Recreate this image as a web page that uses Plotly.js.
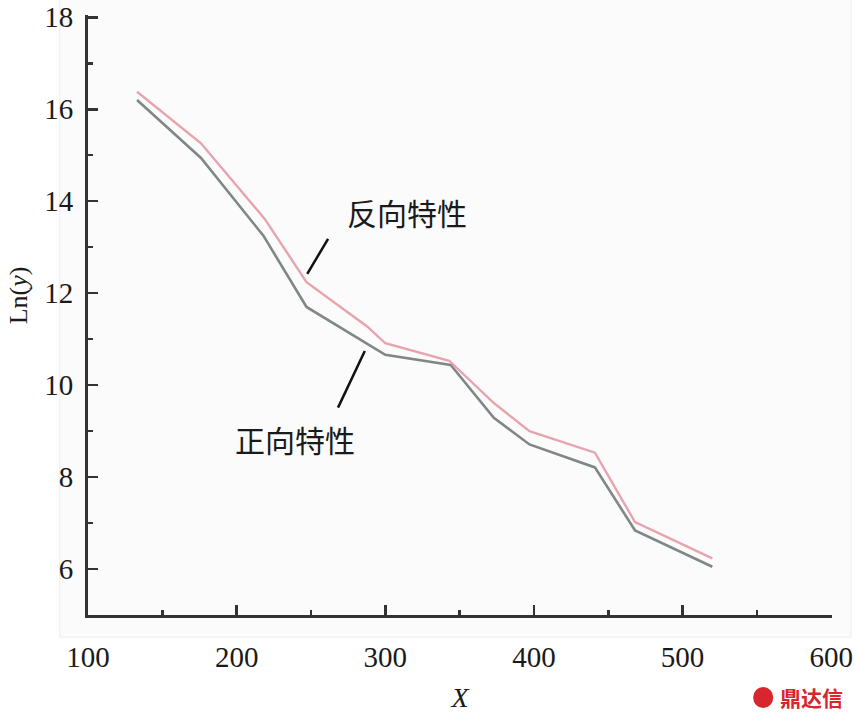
<!DOCTYPE html>
<html>
<head>
<meta charset="utf-8">
<script src="https://cdn.plot.ly/plotly-3.0.1.min.js"></script>
<style>
  html, body { margin: 0; padding: 0; background: #fff; }
  #chart { width: 854px; height: 718px; }
</style>
</head>
<body>
<div id="chart"></div>
<script>
(function() {
  'use strict';

  // forward characteristic (grey)
  var xForward = [133, 176, 218, 247, 300, 344, 373, 397, 441, 468, 520];
  var yForward = [16.2, 14.94, 13.25, 11.7, 10.66, 10.44, 9.29, 8.71, 8.21, 6.84, 6.05];

  // reverse characteristic (pink)
  var xReverse = [133, 176, 219, 247, 288, 300, 343, 373, 397, 441, 468, 520];
  var yReverse = [16.38, 15.26, 13.61, 12.24, 11.27, 10.91, 10.53, 9.61, 9.0, 8.53, 7.02, 6.23];

  var xTicks = [100, 200, 300, 400, 500, 600];
  var yTicks = [6, 8, 10, 12, 14, 16, 18];

  var serif = 'Liberation Serif';
  var cjk = 'Noto Sans CJK SC';

  var data = [
    {
      x: xForward, y: yForward, type: 'scatter', mode: 'lines', name: '正向特性',
      line: { color: '#7f8884', width: 2.6 }
    },
    {
      x: xReverse, y: yReverse, type: 'scatter', mode: 'lines', name: '反向特性',
      line: { color: '#e9a3ad', width: 2.4 }
    }
  ];

  var layout = {
    width: 854, height: 718,
    font: { family: serif, size: 29, color: '#1a1a1a' },
    paper_bgcolor: '#ffffff',
    plot_bgcolor: 'rgba(0,0,0,0)',
    margin: { l: 88, r: 22, t: 15, b: 103 },
    showlegend: false,
    xaxis: {
      range: [100, 600.5],
      showgrid: false, zeroline: false, showline: true,
      linecolor: '#333', linewidth: 3,
      ticks: 'inside', ticklen: 10, tickwidth: 2.5, tickcolor: '#333',
      tickvals: xTicks,
      tickfont: { family: serif, size: 29, color: '#1a1a1a' },
      ticklabelstandoff: 14,
      minor: { dtick: 50, ticks: 'inside', ticklen: 5, tickwidth: 2.5, tickcolor: '#333' },
      title: { text: '<i>X</i>', standoff: 16, font: { family: serif, size: 28, color: '#1a1a1a' } }
    },
    yaxis: {
      range: [5, 18.05],
      showgrid: false, zeroline: false, showline: true,
      linecolor: '#333', linewidth: 3,
      ticks: 'inside', ticklen: 10, tickwidth: 2.5, tickcolor: '#333',
      tickvals: yTicks,
      tickfont: { family: serif, size: 29, color: '#1a1a1a' },
      ticklabelstandoff: 6,
      minor: { dtick: 1, ticks: 'inside', ticklen: 5, tickwidth: 2.5, tickcolor: '#333' }
    },
    shapes: [
      { type: 'rect', layer: 'below', xref: 'paper', yref: 'paper',
        x0: -0.038, x1: 1.0255, y0: -0.037, y1: 1.03,
        fillcolor: '#fbfbfb', line: { color: '#eeeeee', width: 1 } },
      // leader lines
      { type: 'line', xref: 'x', yref: 'y', x0: 247.5, y0: 12.42, x1: 261.5, y1: 13.18,
        line: { color: '#111', width: 2.5 } },
      { type: 'line', xref: 'x', yref: 'y', x0: 286.2, y0: 10.74, x1: 268.2, y1: 9.51,
        line: { color: '#111', width: 2.5 } },
      // watermark icon
      { type: 'circle', xref: 'paper', yref: 'paper',
        x0: 0.894, x1: 0.921, y0: -0.155, y1: -0.12,
        fillcolor: '#d7262d', line: { width: 0 } }
    ],
    annotations: [
      { x: 314.4, y: 13.77, xref: 'x', yref: 'y', text: '反向特性', showarrow: false,
        font: { family: cjk, size: 30, color: '#1a1a1a' } },
      { x: 239.1, y: 8.83, xref: 'x', yref: 'y', text: '正向特性', showarrow: false,
        font: { family: cjk, size: 30, color: '#1a1a1a' } },
      { x: -0.094, y: 0.533, xref: 'paper', yref: 'paper', text: 'Ln(<i>y</i>)',
        textangle: -90, showarrow: false, xanchor: 'center', yanchor: 'middle',
        font: { family: serif, size: 26, color: '#1a1a1a' } },
      { x: 0.973, y: -0.137, xref: 'paper', yref: 'paper', text: '<b>鼎达信</b>',
        showarrow: false, xanchor: 'center', yanchor: 'middle',
        font: { family: cjk, size: 21, color: '#d7262d' } }
    ]
  };

  Plotly.newPlot('chart', data, layout, { displayModeBar: false, staticPlot: true });
})();
</script>
</body>
</html>
